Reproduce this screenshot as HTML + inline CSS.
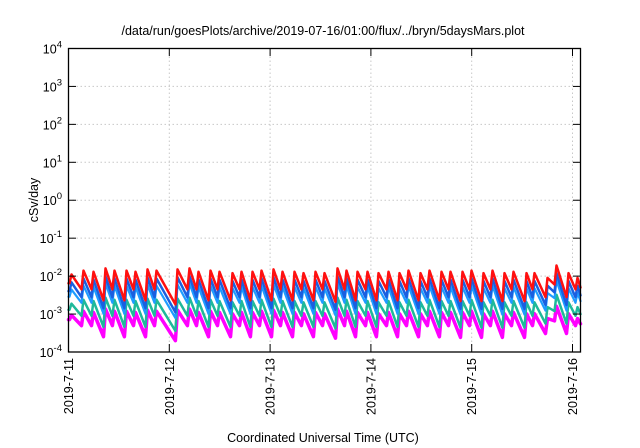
<!DOCTYPE html>
<html><head><meta charset="utf-8"><style>
html,body{margin:0;padding:0;background:#fff;}
svg{display:block;font-family:"Liberation Sans",sans-serif;}
</style></head><body>
<svg id="chart" width="640" height="448" viewBox="0 0 640 448">
<text x="323" y="35" font-size="12.5" text-anchor="middle">/data/run/goesPlots/archive/2019-07-16/01:00/flux/../bryn/5daysMars.plot</text>
<text transform="translate(38,200) rotate(-90)" font-size="12.5" text-anchor="middle">cSv/day</text>
<text x="323" y="442" font-size="12.5" text-anchor="middle">Coordinated Universal Time (UTC)</text>
<g id="grid"></g>
<g id="series"></g>
<rect x="68.5" y="48.5" width="512" height="303.5" fill="none" stroke="#000" stroke-width="1.3"/>
<g id="axes"></g>
</svg>
<script>
// ---- data ----
const yExponents = [-4,-3,-2,-1,0,1,2,3,4];
const xTickLabels = ["2019-7-11","2019-7-12","2019-7-13","2019-7-14","2019-7-15","2019-7-16"];
const peakTimes = [0.03,0.149,0.248,0.367,0.456,0.575,0.665,0.784,0.873,1.081,1.200,1.290,1.409,1.498,1.627,1.716,1.825,1.915,2.034,2.123,2.242,2.331,2.450,2.540,2.669,2.758,2.867,2.966,3.075,3.175,3.284,3.373,3.492,3.581,3.700,3.790,3.909,3.998,4.117,4.206,4.325,4.415,4.544,4.623,4.752,4.841,4.960,5.050];
const redPeaks = [0.011,0.014,0.013,0.016,0.014,0.014,0.013,0.015,0.014,0.015,0.016,0.013,0.014,0.013,0.012,0.013,0.013,0.014,0.015,0.013,0.013,0.012,0.013,0.012,0.016,0.014,0.013,0.013,0.012,0.013,0.012,0.014,0.012,0.014,0.013,0.013,0.013,0.014,0.012,0.014,0.012,0.013,0.012,0.012,0.009,0.019,0.012,0.009];
const redTroughs = [0.0045,0.0045,0.0023,0.0045,0.0023,0.0045,0.0023,0.0045,0.0018,0.0045,0.0045,0.0023,0.0045,0.0023,0.0045,0.0023,0.0045,0.0023,0.0045,0.0023,0.0045,0.0023,0.0045,0.0021,0.0045,0.0023,0.0045,0.0023,0.0045,0.0023,0.0045,0.0023,0.0045,0.0023,0.0045,0.0022,0.0045,0.0022,0.0045,0.0022,0.0045,0.0022,0.0045,0.0028,0.006,0.0028,0.0045,0.005];
const startValue = 0.0065;
const seriesNames = ["red","blue","light-blue","teal","magenta"];
const seriesColors = ["#ff1010","#1a5fe0","#1e9cff","#1fb99a","#ff00ff"];
const seriesWidths = [2.5,2.5,2.2,2.5,3.5];
const peakScale = [1,0.62,0.40,0.17,0.085];
const troughScale = [1,0.62,0.44,0.2,0.11];
// ---- axes functions ----
const X0=68.5, PXDAY=100.8, YB=352, PXDEC=37.94;
function xs(t){return X0+t*PXDAY;}
function ys(v){return YB-(Math.log10(v)+4)*PXDEC;}
const NS="http://www.w3.org/2000/svg";
function mk(tag,attrs,parent){const e=document.createElementNS(NS,tag);for(const k in attrs)e.setAttribute(k,attrs[k]);parent.appendChild(e);return e;}
const grid=document.getElementById('grid'), axes=document.getElementById('axes'), ser=document.getElementById('series');
yExponents.forEach(ex=>{
  const y=ys(Math.pow(10,ex));
  if(ex>-4&&ex<4){const g=mk('line',{x1:68.5,x2:580.5,y1:y,y2:y,stroke:'#c8c8c8','stroke-dasharray':'1.5,2.5','stroke-width':1},grid);
  
  }
  const t1=mk('line',{x1:68.5,x2:76,y1:y,y2:y,stroke:'#000','stroke-width':1},axes);
  
  
  const t2=mk('line',{x1:573,x2:580.5,y1:y,y2:y,stroke:'#000','stroke-width':1},axes);
  
  
  const tx=mk('text',{x:62,y:y+5,'font-size':12.5,'text-anchor':'end'},axes);
  
  
  tx.textContent='10';
  const sup=mk('tspan',{dy:-6,'font-size':9.5},tx);sup.textContent=String(ex);
});
xTickLabels.forEach((lab,i)=>{
  const x=xs(i);
  if(i>0){const g=mk('line',{x1:x,x2:x,y1:48.5,y2:352,stroke:'#c8c8c8','stroke-dasharray':'1.5,2.5','stroke-width':1},grid);
  
  }
  const t1=mk('line',{x1:x,x2:x,y1:352,y2:344,stroke:'#000','stroke-width':1},axes);
  
  
  const t2=mk('line',{x1:x,x2:x,y1:48.5,y2:56,stroke:'#000','stroke-width':1},axes);
  
  
  const tx=mk('text',{transform:`translate(${x+4.5},358) rotate(-90)`,'font-size':12.5,'text-anchor':'end'},axes);
  
  
  tx.textContent=lab;
});
const tEnd=(580.5-X0)/PXDAY;
seriesNames.forEach((nm,s)=>{
  const pts=[[0,startValue*troughScale[s]]];
  for(let i=0;i<peakTimes.length;i++){
    const prevTr=(i===0?startValue:redTroughs[i-1])*troughScale[s];
    pts.push([peakTimes[i]-0.02,prevTr]);
    pts.push([peakTimes[i],redPeaks[i]*peakScale[s]]);
  }
  const last=peakTimes.length-1;
  const endT=Math.min(tEnd,peakTimes[last]+0.09);
  pts.push([endT,redTroughs[last]*troughScale[s]]);
  const d=pts.map((p,i)=>(i?'L':'M')+xs(Math.min(p[0],tEnd)).toFixed(1)+','+ys(p[1]).toFixed(1)).join('');
  const path=mk('path',{d:d,fill:'none',stroke:seriesColors[s],'stroke-width':seriesWidths[s],'stroke-linejoin':'round','stroke-linecap':'round'},ser);
  
  
});
Array.from(ser.children).reverse().forEach(c=>ser.appendChild(c));
</script>
</body></html>
